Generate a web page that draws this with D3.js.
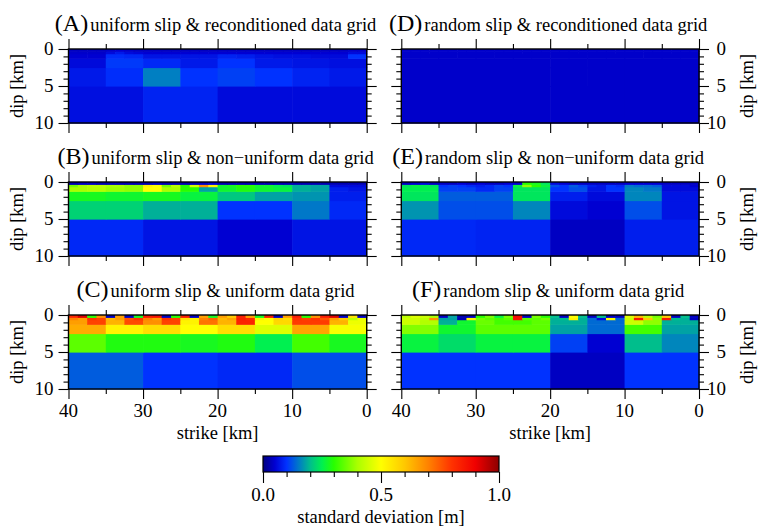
<!DOCTYPE html>
<html><head><meta charset="utf-8">
<script src="https://cdn.jsdelivr.net/npm/d3@7"></script>
<style>
body{margin:0;background:#fff;}
svg{display:block;font-family:"Liberation Serif","Times New Roman",serif;}
</style></head><body>
<svg id="chart" width="758" height="526"></svg>
<script>
// ---------- axes / ticks ----------
const strikeDomain = [40, 0];
const dipDomain = [0, 10];
const strikeMajor = [40, 30, 20, 10, 0];
const strikeMinor = [35, 25, 15, 5];
const dipMajor = [0, 5, 10];
const dipMinor = [1, 2, 3, 4, 6, 7, 8, 9];
const cbarMajor = [0, 0.5, 1];
const cbarMinor = [0.1, 0.2, 0.3, 0.4, 0.6, 0.7, 0.8, 0.9];
const cbarLabels = ["0.0", "0.5", "1.0"];

// ---------- sub-fault layers (dip ranges, km); cells per layer = array length ----------
const layerTop    = [5, 2.5, 1.25, 0.625, 0.3125, 0];
const layerBottom = [10, 5, 2.5, 1.25, 0.625, 0.3125];

// ---------- colour map (standard deviation, m) ----------
const cmapStops  = [0, 0.05, 0.10, 0.15, 0.20, 0.25, 0.30, 0.40, 0.50, 0.60, 0.70, 0.80, 0.90, 1.0];
const cmapColors = ["#000080","#0000d2","#0032ff","#0078c8","#00be8c","#00f050","#28ff00","#aaff00","#ffff00","#ffc800","#ff8200","#ff3200","#f00000","#8c0000"];

// ---------- panel titles ----------
const panelLetters = ["A", "B", "C", "D", "E", "F"];
const panelTitles = [
  "uniform slip & reconditioned data grid",
  "uniform slip & non\u2212uniform data grid",
  "uniform slip & uniform data grid",
  "random slip & reconditioned data grid",
  "random slip & non\u2212uniform data grid",
  "random slip & uniform data grid"
];

// ---------- standard deviation per layer (left->right = strike 40 -> 0) ----------
const panelA = [
  [0.065, 0.085, 0.06, 0.06],
  [0.075, 0.095, 0.155, 0.10, 0.11, 0.10, 0.085, 0.075],
  [0.06, 0.105, 0.09, 0.075, 0.10, 0.075, 0.07, 0.065],
  [0.05,0.05, 0.095,0.09, 0.07,0.07, 0.07,0.07, 0.085,0.08, 0.07,0.065, 0.065,0.06, 0.06,0.10],
  [0.045,0.045,0.045,0.045, 0.06,0.075,0.06,0.055, 0.05,0.05,0.05,0.05, 0.05,0.05,0.05,0.05, 0.05,0.05,0.05,0.05, 0.05,0.05,0.05,0.05, 0.05,0.05,0.05,0.05, 0.05,0.05,0.06,0.06],
  [0.04,0.04,0.04,0.04, 0.045,0.05,0.045,0.04, 0.04,0.04,0.04,0.04, 0.04,0.04,0.04,0.04, 0.04,0.04,0.04,0.04, 0.04,0.04,0.04,0.04, 0.04,0.04,0.04,0.04, 0.04,0.04,0.045,0.045]
];
const panelB = [
  [0.09, 0.07, 0.05, 0.07],
  [0.22, 0.22, 0.19, 0.19, 0.10, 0.10, 0.15, 0.09],
  [0.28, 0.27, 0.28, 0.26, 0.21, 0.18, 0.17, 0.08],
  [0.40,0.41, 0.39,0.38, 0.50,0.40, 0.30,0.18, 0.27,0.29, 0.27,0.26, 0.19,0.18, 0.08,0.07],
  [0.36,0.40, 0.42,0.42, 0.40,0.40, 0.38,0.38, 0.52,0.50, 0.36,0.42, 0.30,0.45, 0.68,0.52, 0.27,0.28, 0.30,0.30, 0.27,0.27, 0.25,0.24, 0.19,0.19, 0.18,0.18, 0.06,0.06, 0.06,0.06],
  [0.03,0.04,0.04,0.03, 0.03,0.03,0.03,0.03, 0.03,0.04,0.03,0.03, 0.03,0.03,0.04,0.05, 0.03,0.03,0.03,0.03, 0.03,0.03,0.03,0.03, 0.03,0.03,0.03,0.03, 0.03,0.03,0.03,0.03]
];
const panelC = [
  [0.13, 0.10, 0.09, 0.12],
  [0.34, 0.29, 0.29, 0.28, 0.29, 0.25, 0.32, 0.28],
  [0.64, 0.52, 0.56, 0.50, 0.56, 0.46, 0.65, 0.49],
  [0.66,0.78, 0.63,0.77, 0.68,0.78, 0.52,0.72, 0.63,0.83, 0.50,0.57, 0.79,0.79, 0.63,0.48],
  [0.70,0.66, 0.80,0.78, 0.62,0.66, 0.76,0.80, 0.70,0.66, 0.80,0.78, 0.55,0.52, 0.70,0.74, 0.62,0.65, 0.84,0.82, 0.52,0.50, 0.58,0.56, 0.80,0.78, 0.80,0.76, 0.66,0.60, 0.42,0.48],
  [0.82,0.92, 0.30,0.68, 0.04,0.66, 0.04,0.28, 0.85,0.86, 0.04,0.30, 0.84,0.04, 0.66,0.28, 0.66,0.60, 0.84,0.66, 0.28,0.84, 0.04,0.66, 0.84,0.30, 0.68,0.84, 0.92,0.04, 0.55,0.04]
];
const panelD = [
  [0.045, 0.045, 0.045, 0.045],
  [0.045, 0.045, 0.045, 0.045, 0.045, 0.045, 0.045, 0.045],
  [0.045, 0.045, 0.045, 0.045, 0.045, 0.045, 0.045, 0.045],
  [0.045,0.045, 0.045,0.045, 0.045,0.045, 0.045,0.045, 0.045,0.045, 0.045,0.045, 0.045,0.045, 0.045,0.045],
  [0.045,0.045,0.045,0.045, 0.045,0.045,0.045,0.045, 0.045,0.045,0.045,0.045, 0.045,0.045,0.045,0.045, 0.045,0.045,0.045,0.045, 0.045,0.045,0.045,0.045, 0.045,0.045,0.045,0.045, 0.045,0.045,0.045,0.045],
  [0.045,0.045,0.045,0.045, 0.045,0.045,0.045,0.045, 0.045,0.045,0.045,0.045, 0.045,0.045,0.045,0.045, 0.045,0.045,0.045,0.045, 0.045,0.045,0.045,0.045, 0.045,0.045,0.045,0.045, 0.045,0.045,0.045,0.045]
];
const panelE = [
  [0.09, 0.085, 0.04, 0.08],
  [0.17, 0.12, 0.12, 0.16, 0.06, 0.05, 0.12, 0.07],
  [0.24, 0.13, 0.13, 0.24, 0.08, 0.06, 0.16, 0.07],
  [0.25,0.25, 0.11,0.11, 0.09,0.11, 0.24,0.24, 0.10,0.12, 0.07,0.10, 0.16,0.15, 0.06,0.06],
  [0.24,0.26, 0.25,0.24, 0.10,0.11, 0.10,0.09, 0.08,0.09, 0.11,0.10, 0.26,0.38, 0.30,0.26, 0.12,0.10, 0.13,0.11, 0.08,0.07, 0.10,0.09, 0.15,0.14, 0.14,0.13, 0.06,0.06, 0.06,0.05],
  [0.04,0.05,0.06,0.04, 0.04,0.04,0.05,0.04, 0.05,0.04,0.04,0.05, 0.05,0.30,0.28,0.24, 0.06,0.05,0.04,0.04, 0.04,0.04,0.04,0.04, 0.05,0.05,0.05,0.05, 0.04,0.04,0.04,0.04]
];
const panelF = [
  [0.10, 0.10, 0.04, 0.10],
  [0.26, 0.23, 0.26, 0.26, 0.11, 0.05, 0.20, 0.16],
  [0.37, 0.27, 0.34, 0.34, 0.18, 0.14, 0.32, 0.18],
  [0.44,0.41, 0.19,0.27, 0.35,0.32, 0.32,0.34, 0.19,0.19, 0.14,0.14, 0.44,0.38, 0.19,0.19],
  [0.44,0.44, 0.42,0.68, 0.18,0.18, 0.03,0.52, 0.36,0.34, 0.32,0.34, 0.86,0.34, 0.34,0.36, 0.19,0.20, 0.52,0.19, 0.14,0.06, 0.50,0.14, 0.44,0.85, 0.60,0.38, 0.85,0.20, 0.19,0.04],
  [0.42,0.46, 0.44,0.40, 0.04,0.18, 0.03,0.04, 0.30,0.36, 0.26,0.36, 0.88,0.04, 0.36,0.30, 0.20,0.04, 0.50,0.20, 0.04,0.20, 0.04,0.04, 0.46,0.62, 0.42,0.36, 0.60,0.04, 0.20,0.04]
];
const panelData = [panelA, panelB, panelC, panelD, panelE, panelF];

// ---------- layout ----------
const colX = [[68.5, 366.7], [401.3, 699]];
const rowY = [49, 182, 315];
const plotH = 74;
const cbar = {x0: 263, x1: 499, y0: 456, y1: 472};

const svg = d3.select("#chart");
const color = d3.scaleLinear().domain(cmapStops).range(cmapColors).interpolate(d3.interpolateRgb).clamp(true);

function styleAxis(g) {
  g.select(".domain").remove();
  g.selectAll(".tick line").attr("stroke", "#000").attr("stroke-width", 1.1);
  g.selectAll(".tick text").remove();
}

panelData.forEach((data, i) => {
  const col = Math.floor(i / 3), row = i % 3;
  const [x0, x1] = colX[col];
  const y0 = rowY[row], y1 = y0 + plotH;
  const xs = d3.scaleLinear().domain(strikeDomain).range([x0, x1]);
  const ys = d3.scaleLinear().domain(dipDomain).range([y0, y1]);
  const g = svg.append("g");

  // cells
  data.forEach((vals, li) => {
    const n = vals.length, w = (strikeDomain[0] - strikeDomain[1]) / n;
    g.append("g").selectAll("rect").data(vals).join("rect")
      .attr("x", (d, j) => xs(strikeDomain[0] - j * w))
      .attr("width", (d, j) => xs(strikeDomain[0] - (j + 1) * w) - xs(strikeDomain[0] - j * w) + 0.6)
      .attr("y", ys(layerTop[li]))
      .attr("height", ys(layerBottom[li]) - ys(layerTop[li]) + 0.6)
      .attr("fill", d => color(d));
  });

  // ticks top / bottom
  g.append("g").attr("transform", `translate(0,${y0})`).call(d3.axisTop(xs).tickValues(strikeMajor).tickSize(10)).call(styleAxis);
  g.append("g").attr("transform", `translate(0,${y0})`).call(d3.axisTop(xs).tickValues(strikeMinor).tickSize(5)).call(styleAxis);
  g.append("g").attr("transform", `translate(0,${y1})`).call(d3.axisBottom(xs).tickValues(strikeMajor).tickSize(10)).call(styleAxis);
  g.append("g").attr("transform", `translate(0,${y1})`).call(d3.axisBottom(xs).tickValues(strikeMinor).tickSize(5)).call(styleAxis);
  // ticks left / right
  g.append("g").attr("transform", `translate(${x0},0)`).call(d3.axisLeft(ys).tickValues(dipMajor).tickSize(10)).call(styleAxis);
  g.append("g").attr("transform", `translate(${x0},0)`).call(d3.axisLeft(ys).tickValues(dipMinor).tickSize(5)).call(styleAxis);
  g.append("g").attr("transform", `translate(${x1},0)`).call(d3.axisRight(ys).tickValues(dipMajor).tickSize(10)).call(styleAxis);
  g.append("g").attr("transform", `translate(${x1},0)`).call(d3.axisRight(ys).tickValues(dipMinor).tickSize(5)).call(styleAxis);

  // frame
  g.append("rect").attr("x", x0).attr("y", y0).attr("width", x1 - x0).attr("height", y1 - y0)
    .attr("fill", "none").attr("stroke", "#000").attr("stroke-width", 1.4);

  // dip labels
  const leftSide = col === 0;
  g.append("g").selectAll("text").data(dipMajor).join("text")
    .attr("x", leftSide ? x0 - 15 : 726)
    .attr("y", d => ys(d)).attr("dy", "0.34em")
    .attr("text-anchor", "end").attr("font-size", 19).text(d => d);
  const cy = (y0 + y1) / 2;
  g.append("text").attr("transform", `translate(${leftSide ? 23 : 753},${cy}) rotate(-90)`)
    .attr("text-anchor", "middle").attr("font-size", 18.5).text("dip [km]");

  // strike labels on bottom row
  if (row === 2) {
    g.append("g").selectAll("text").data(strikeMajor).join("text")
      .attr("x", d => xs(d)).attr("y", y1 + 28)
      .attr("text-anchor", "middle").attr("font-size", 19).text(d => d);
    g.append("text").attr("x", (x0 + x1) / 2).attr("y", y1 + 50)
      .attr("text-anchor", "middle").attr("font-size", 18.5).text("strike [km]");
  }

  // title
  const t = g.append("text").attr("y", y0 - 18.5);
  t.append("tspan").attr("font-size", 24).text("(" + panelLetters[i] + ")");
  t.append("tspan").attr("font-size", 18.5).attr("dx", 2).text(panelTitles[i]);
  const tw = t.node().getComputedTextLength();
  t.attr("x", (x0 + x1) / 2 - 3 - tw / 2);
});

// ---------- colour bar ----------
const defs = svg.append("defs");
const grad = defs.append("linearGradient").attr("id", "cbgrad").attr("x1", "0%").attr("x2", "100%").attr("y1", "0%").attr("y2", "0%");
grad.selectAll("stop").data(cmapStops).join("stop")
  .attr("offset", d => (d * 100) + "%").attr("stop-color", d => color(d));
const cs = d3.scaleLinear().domain([0, 1]).range([cbar.x0, cbar.x1]);
svg.append("rect").attr("x", cbar.x0).attr("y", cbar.y0).attr("width", cbar.x1 - cbar.x0).attr("height", cbar.y1 - cbar.y0)
  .attr("fill", "url(#cbgrad)").attr("stroke", "#000").attr("stroke-width", 1.2);
svg.append("g").attr("transform", `translate(0,${cbar.y1})`).call(d3.axisBottom(cs).tickValues(cbarMajor).tickSize(11)).call(styleAxis);
svg.append("g").attr("transform", `translate(0,${cbar.y1})`).call(d3.axisBottom(cs).tickValues(cbarMinor).tickSize(5)).call(styleAxis);
svg.append("g").selectAll("text").data(cbarMajor).join("text")
  .attr("x", d => cs(d)).attr("y", 501).attr("text-anchor", "middle").attr("font-size", 19)
  .text((d, k) => cbarLabels[k]);
svg.append("text").attr("x", (cbar.x0 + cbar.x1) / 2).attr("y", 522.5).attr("text-anchor", "middle")
  .attr("font-size", 18.5).text("standard deviation [m]");
</script>
</body></html>
